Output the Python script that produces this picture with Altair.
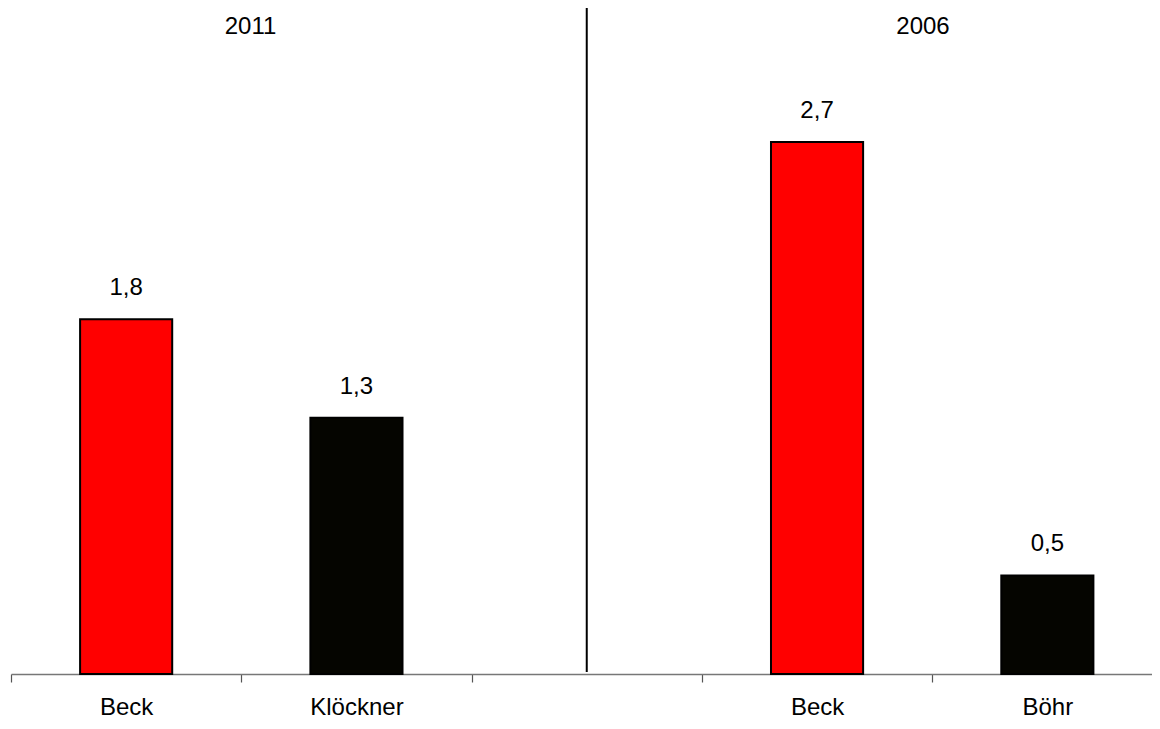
import altair as alt
import pandas as pd

# ---- data ----
names = ["Beck", "Klöckner", "Beck", "Böhr"]
years = ["2011", "2011", "2006", "2006"]
values = [1.8, 1.3, 2.7, 0.5]
slots = [0, 1, 3, 4]          # category slot on the x axis (slot 2 is the empty gap)
colors = ["#ff0000", "#050500", "#ff0000", "#050500"]
year_titles = ["2011", "2006"]
year_anchor = [1.04, 3.96]    # centre of each year title, in slot units
divider_at = [2.5]            # the vertical separator between the two years

FONT = "Liberation Sans"
FS = 24
W, H = 1141, 666
X_MAX = 1141 / 230.3
Y_MAX = 3.38

df = pd.DataFrame({"name": names, "year": years, "value": values,
                   "slot": slots, "color": colors})
df["left"] = df["slot"] + 0.3
df["right"] = df["slot"] + 0.7
df["mid"] = df["slot"] + 0.5
df["label"] = [f"{v:.1f}".replace(".", ",") for v in values]

xscale = alt.Scale(domain=[0, X_MAX], nice=False, zero=False)
yscale = alt.Scale(domain=[0, Y_MAX], nice=False)

label_map = {s + 0.5: n for s, n in zip(slots, names)}
label_expr = " : ".join(
    [f"datum.value == {k} ? '{v}'" for k, v in label_map.items()] + ["''"]
)

tick_values = [0, 1, 2, 3, 4] + [k for k in label_map]

bars = alt.Chart(df).mark_bar(stroke="black", strokeWidth=2).encode(
    x=alt.X("left:Q", scale=xscale, axis=alt.Axis(
        values=tick_values, labelExpr=label_expr, title=None, grid=False,
        domainColor="#777777", domainWidth=1.5,
        tickColor="#555555", tickSize=8, tickWidth=1.2,
        tickOpacity={"condition": {"test": "datum.value % 1 == 0", "value": 1}, "value": 0},
        labelFont=FONT, labelFontSize=FS, labelColor="black",
        labelBaseline="alphabetic", labelPadding=32, labelFlush=False,
        labelOverlap=False)),
    x2="right:Q",
    y=alt.Y("value:Q", scale=yscale, axis=None),
    y2=alt.datum(0),
    color=alt.Color("color:N", scale=None),
)

value_text = alt.Chart(df).mark_text(
    font=FONT, fontSize=FS, color="black", baseline="alphabetic", dy=-24
).encode(
    x=alt.X("mid:Q", scale=xscale),
    y=alt.Y("value:Q", scale=yscale),
    text="label:N",
)

ydf = pd.DataFrame({"title": year_titles, "pos": year_anchor})
year_text = alt.Chart(ydf).mark_text(
    font=FONT, fontSize=FS, color="black", baseline="alphabetic"
).encode(
    x=alt.X("pos:Q", scale=xscale),
    y=alt.value(26),
    text="title:N",
)

ddf = pd.DataFrame({"at": divider_at})
divider = alt.Chart(ddf).mark_rule(color="black", strokeWidth=2).encode(
    x=alt.X("at:Q", scale=xscale),
    y=alt.value(-1),
    y2=alt.value(H - 2),
)

chart = alt.layer(bars, divider, value_text, year_text).properties(
    width=W, height=H,
    autosize=alt.AutoSizeParams(type="none"),
    padding={"left": 3, "top": 0, "right": 0, "bottom": 47},
).configure_view(stroke=None)

chart.save("out.html", embed_options={"renderer": "svg", "actions": False})
